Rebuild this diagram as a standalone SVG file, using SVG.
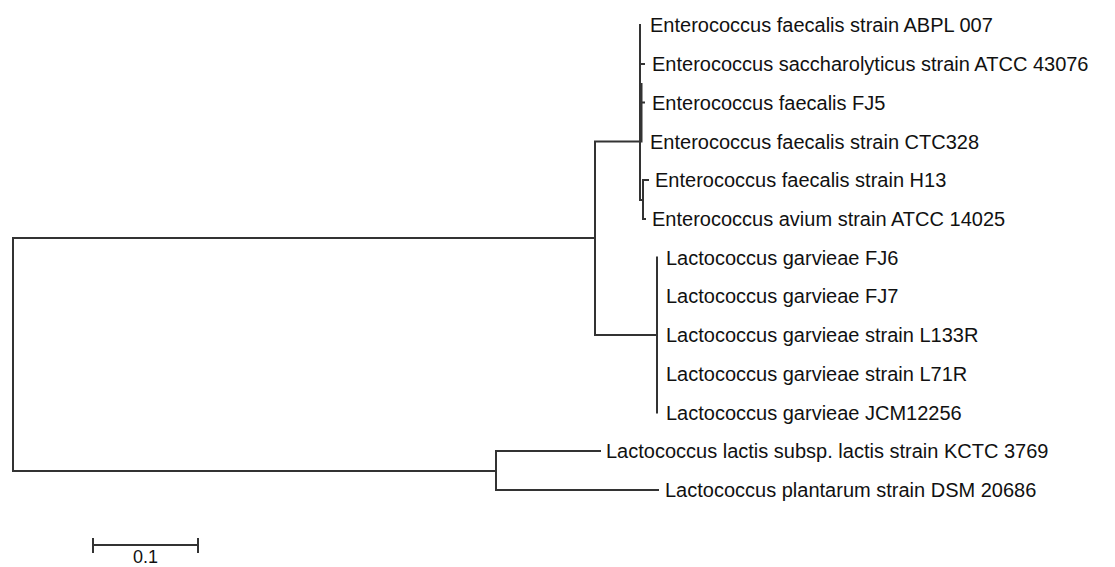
<svg xmlns="http://www.w3.org/2000/svg" width="1115" height="567" viewBox="0 0 1115 567">
<style>
.e{fill:none;stroke:#333;stroke-width:2;stroke-linecap:square}
.t{font-family:"Liberation Sans",Arial,sans-serif;font-size:20px;fill:#111}
</style>
<rect width="1115" height="567" fill="#fff"/>
<g id="connectors">
<path class="e" d="M13,238 V471 M13,238 H595 M13,471 H496 M595,141.5 V335 M595,141.5 H640 M595,335 H657 M640,25 V200 M641.5,84 V141.5 M640,64 H644 M641,102.5 H644 M640,200 H643 M643,180 V219 M643,180 H648 M643,219 H645 M657,257.5 V412.5 M496,451 V490 M496,451 H600 M496,490 H658"/>
</g>
<g id="n1"><text class="t" x="650" y="32">Enterococcus faecalis strain ABPL 007</text></g>
<g id="n2"><text class="t" x="652" y="71">Enterococcus saccharolyticus strain ATCC 43076</text></g>
<g id="n3"><text class="t" x="652" y="109.5">Enterococcus faecalis FJ5</text></g>
<g id="n4"><text class="t" x="650" y="148.5">Enterococcus faecalis strain CTC328</text></g>
<g id="n5"><text class="t" x="655" y="187">Enterococcus faecalis strain H13</text></g>
<g id="n6"><text class="t" x="652" y="226">Enterococcus avium strain ATCC 14025</text></g>
<g id="n7"><text class="t" x="666" y="264.5">Lactococcus garvieae FJ6</text></g>
<g id="n8"><text class="t" x="666" y="303">Lactococcus garvieae FJ7</text></g>
<g id="n9"><text class="t" x="666" y="342">Lactococcus garvieae strain L133R</text></g>
<g id="n10"><text class="t" x="666" y="380.5">Lactococcus garvieae strain L71R</text></g>
<g id="n11"><text class="t" x="666" y="419.5">Lactococcus garvieae JCM12256</text></g>
<g id="n12"><text class="t" x="606" y="458">Lactococcus lactis subsp. lactis strain KCTC 3769</text></g>
<g id="n13"><text class="t" x="665" y="497">Lactococcus plantarum strain DSM 20686</text></g>
<g id="scale">
<path class="e" d="M93,545 H198 M93,539 V552 M198,539 V552"/>
<text class="t" x="145.5" y="563" text-anchor="middle" style="font-size:18px">0.1</text>
</g>
</svg>
